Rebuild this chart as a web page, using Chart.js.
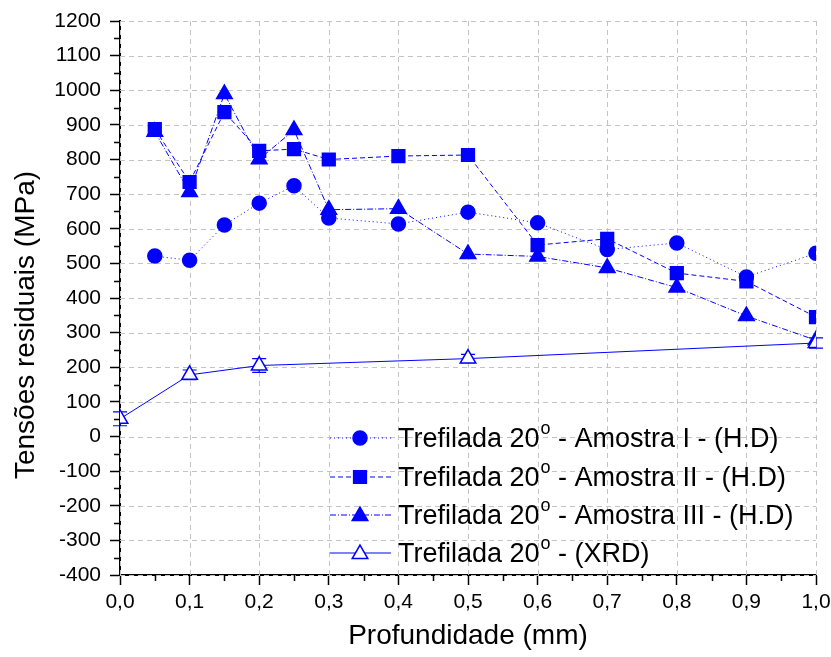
<!DOCTYPE html>
<html>
<head>
<meta charset="utf-8">
<script src="https://cdn.jsdelivr.net/npm/chart.js@4.4.0/dist/chart.umd.min.js"></script>
<style>
    html, body { margin: 0; padding: 0; background: #fff; }
</style>
</head>
<body>
<canvas id="chart" width="831" height="657"></canvas>
<script>
// profundidade (mm) das amostras H.D
const depths = [0.05, 0.1, 0.15, 0.2, 0.25, 0.3, 0.4, 0.5, 0.6, 0.7, 0.8, 0.9, 1.0];
const amostraI = [521, 509, 611, 674, 724, 631, 614, 648, 617, 540, 559, 461, 529];
const amostraII = [888, 735, 937, 825, 830, 800, 810, 813, 553, 571, 472, 448, 345];
const amostraIII = [880, 706, 989, 801, 885, 655, 658, 527, 520, 487, 430, 348, 278];

// XRD
const xrdDepths = [0.0, 0.1, 0.2, 0.5, 1.0];
const xrdValues = [51, 178, 205, 225, 270];
const xrdErrors = [20, 14, 20, 12, 15];

const legendSuffixes = [" - Amostra I - (H.D)", " - Amostra II - (H.D)", " - Amostra III - (H.D)", " - (XRD)"];
const xTitle = "Profundidade (mm)";
const yTitle = "Tensões residuais (MPa)";

const BLUE = "#0000ff";
const GRID = "#c4c4c4";
const FONT = "'Liberation Sans', Arial, sans-serif";

const toPoints = (xs, ys) => xs.map((x, i) => ({ x: x, y: ys[i] }));

const seriesStyles = [
    { dash: [1, 3], shape: "circle", radius: 7, fill: BLUE },
    { dash: [5, 3], shape: "rect", radius: 9, fill: BLUE },
    { dash: [6, 2, 1, 2], shape: "triangle", radius: 9, fill: BLUE },
    { dash: [], shape: "triangle", radius: 9, fill: "#fff" }
];

function drawMarker(ctx, shape, x, y, r, fill) {
    ctx.save();
    ctx.fillStyle = fill;
    ctx.strokeStyle = BLUE;
    ctx.lineWidth = 1.5;
    ctx.setLineDash([]);
    ctx.beginPath();
    if (shape === "circle") {
        ctx.arc(x, y, r, 0, Math.PI * 2);
    } else if (shape === "rect") {
        const s = Math.SQRT1_2 * r;
        ctx.rect(x - s, y - s, 2 * s, 2 * s);
    } else {
        const w = r * Math.sqrt(3) / 2;
        ctx.moveTo(x, y - r);
        ctx.lineTo(x + w, y + r / 2);
        ctx.lineTo(x - w, y + r / 2);
        ctx.closePath();
    }
    ctx.fill();
    ctx.stroke();
    ctx.restore();
}

const extras = {
    id: "extras",
    beforeDatasetsDraw(chart) {
        const { ctx, scales: { x, y }, chartArea } = chart;
        ctx.save();
        // grade tracejada
        ctx.strokeStyle = GRID;
        ctx.lineWidth = 1;
        ctx.setLineDash([5, 4]);
        ctx.beginPath();
        y.ticks.forEach(t => {
            const py = Math.round(y.getPixelForValue(t.value)) + 0.5;
            ctx.moveTo(chartArea.left, py); ctx.lineTo(chartArea.right, py);
        });
        x.ticks.forEach(t => {
            const px = Math.round(x.getPixelForValue(t.value)) + 0.5;
            ctx.moveTo(px, chartArea.top); ctx.lineTo(px, chartArea.bottom);
        });
        ctx.stroke();
        ctx.setLineDash([]);

        // barras de erro do XRD
        ctx.strokeStyle = BLUE;
        ctx.lineWidth = 1.2;
        ctx.beginPath();
        xrdDepths.forEach((d, i) => {
            const px = x.getPixelForValue(d);
            const top = y.getPixelForValue(xrdValues[i] + xrdErrors[i]);
            const bot = y.getPixelForValue(xrdValues[i] - xrdErrors[i]);
            ctx.moveTo(px, top); ctx.lineTo(px, bot);
            ctx.moveTo(px - 7, top); ctx.lineTo(px + 7, top);
            ctx.moveTo(px - 7, bot); ctx.lineTo(px + 7, bot);
        });
        ctx.stroke();
        ctx.restore();
    },
    afterDraw(chart) {
        const { ctx, scales: { x, y }, chartArea } = chart;
        ctx.save();
        // minor ticks
        ctx.strokeStyle = "#000";
        ctx.lineWidth = 1.5;
        ctx.beginPath();
        for (let v = -350; v < 1200; v += 100) {
            const py = Math.round(y.getPixelForValue(v)) + 0.5;
            ctx.moveTo(chartArea.left - 6, py); ctx.lineTo(chartArea.left, py);
        }
        for (let v = 0.05; v < 1; v += 0.1) {
            const px = Math.round(x.getPixelForValue(v)) + 0.5;
            ctx.moveTo(px, chartArea.bottom); ctx.lineTo(px, chartArea.bottom + 6);
        }
        ctx.stroke();

        // titulos dos eixos
        ctx.fillStyle = "#000";
        ctx.font = "28px " + FONT;
        ctx.textAlign = "center";
        ctx.textBaseline = "middle";
        ctx.fillText(xTitle, (chartArea.left + chartArea.right) / 2, 636);
        ctx.save();
        ctx.translate(26, 325);
        ctx.rotate(-Math.PI / 2);
        ctx.fillText(yTitle, 0, 0);
        ctx.restore();

        // legenda
        ctx.textAlign = "left";
        ctx.textBaseline = "alphabetic";
        const rowsY = [438, 477, 515, 553];
        rowsY.forEach((cy, i) => {
            const st = seriesStyles[i];
            ctx.strokeStyle = BLUE;
            ctx.lineWidth = 1;
            ctx.setLineDash(st.dash);
            ctx.beginPath();
            ctx.moveTo(330, cy); ctx.lineTo(391, cy);
            ctx.stroke();
            ctx.setLineDash([]);
            drawMarker(ctx, st.shape, 360, cy + (st.shape === "triangle" ? 1 : 0), st.radius, st.fill);

            ctx.fillStyle = "#000";
            ctx.font = "27px " + FONT;
            let tx = 398;
            const base = cy + 9;
            ctx.fillText("Trefilada 20", tx, base);
            tx += ctx.measureText("Trefilada 20").width + 1;
            ctx.font = "18px " + FONT;
            ctx.fillText("o", tx, cy - 4);
            tx += ctx.measureText("o").width;
            ctx.font = "27px " + FONT;
            ctx.fillText(legendSuffixes[i], tx, base);
        });
        ctx.restore();
    }
};

const lineDataset = (data, i) => ({
    data: data,
    borderColor: BLUE,
    borderWidth: 1,
    borderDash: seriesStyles[i].dash,
    backgroundColor: seriesStyles[i].fill,
    pointBackgroundColor: seriesStyles[i].fill,
    pointBorderColor: BLUE,
    pointBorderWidth: 1.5,
    pointStyle: seriesStyles[i].shape,
    pointRadius: seriesStyles[i].radius,
    pointHoverRadius: seriesStyles[i].radius,
    tension: 0,
    fill: false
});

new Chart(document.getElementById("chart"), {
    type: "line",
    data: {
        datasets: [
            Object.assign(lineDataset(toPoints(xrdDepths, xrdValues), 3), { order: 0 }),
            Object.assign(lineDataset(toPoints(depths, amostraI), 0), { order: 1 }),
            Object.assign(lineDataset(toPoints(depths, amostraII), 1), { order: 2 }),
            Object.assign(lineDataset(toPoints(depths, amostraIII), 2), { order: 3 })
        ]
    },
    options: {
        responsive: false,
        animation: false,
        layout: { padding: { top: 21, right: 15, left: 0, bottom: 0 } },
        plugins: { legend: { display: false }, tooltip: { enabled: false } },
        scales: {
            x: {
                type: "linear",
                min: 0,
                max: 1,
                afterFit: scale => { scale.height = 82; scale.paddingRight = 0; scale.paddingLeft = 0; },
                ticks: {
                    stepSize: 0.1,
                    color: "#000",
                    padding: 5,
                    font: { size: 21, family: FONT },
                    callback: v => v.toFixed(1).replace(".", ",")
                },
                grid: { drawOnChartArea: false, color: GRID, tickColor: "#000", tickWidth: 1.5, tickLength: 10 },
                border: { color: "#000", width: 2 }
            },
            y: {
                min: -400,
                max: 1200,
                afterFit: scale => { scale.width = 120; scale.paddingTop = 0; scale.paddingBottom = 0; },
                ticks: {
                    stepSize: 100,
                    color: "#000",
                    padding: 9,
                    font: { size: 21, family: FONT },
                    callback: v => String(v)
                },
                grid: { drawOnChartArea: false, color: GRID, tickColor: "#000", tickWidth: 1.5, tickLength: 10 },
                border: { color: "#000", width: 2 }
            }
        }
    },
    plugins: [extras]
});
</script>
</body>
</html>
